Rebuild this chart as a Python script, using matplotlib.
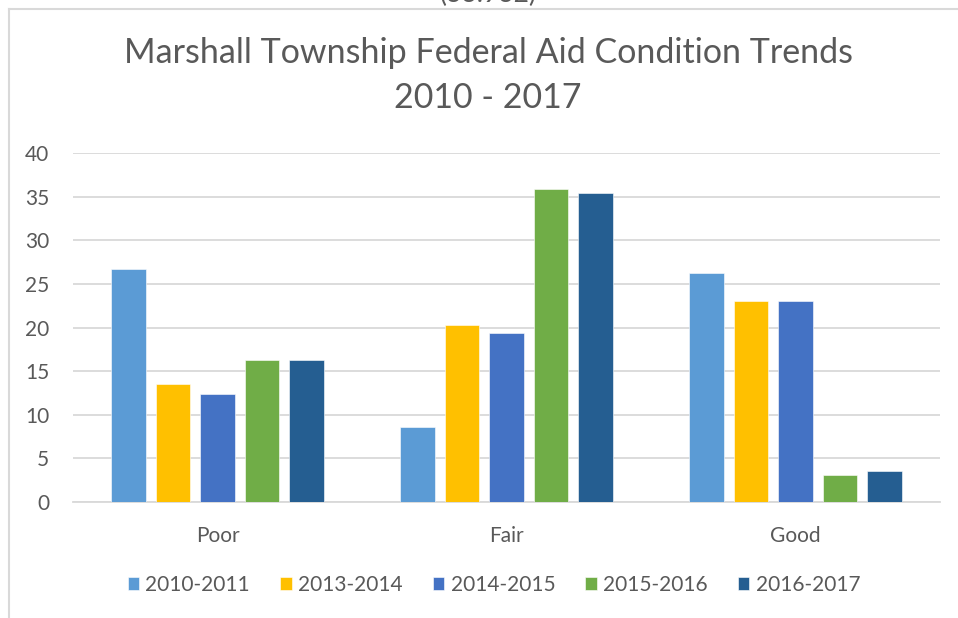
import numpy as np
import matplotlib.pyplot as plt
from matplotlib.lines import Line2D

categories = ['Poor', 'Fair', 'Good']
series = ['2010-2011', '2013-2014', '2014-2015', '2015-2016', '2016-2017']
v_2010_2011 = [26.7, 8.6, 26.3]
v_2013_2014 = [13.5, 20.3, 23.0]
v_2014_2015 = [12.4, 19.4, 23.0]
v_2015_2016 = [16.3, 35.9, 3.1]
v_2016_2017 = [16.3, 35.4, 3.6]
values = [v_2010_2011, v_2013_2014, v_2014_2015, v_2015_2016, v_2016_2017]
colors = ['#5B9BD5', '#FFC000', '#4472C4', '#70AD47', '#255E91']

plt.rcParams['font.family'] = ['Lato', 'DejaVu Sans']
txt = '#595959'
grid = '#D9D9D9'

W, H = 958, 618
fig = plt.figure(figsize=(W / 100, H / 100), dpi=100)

# plot area in pixels: x 73..940, y 153..502
ax = fig.add_axes([73 / W, 1 - 502 / H, (940 - 73) / W, (502 - 153) / H])

x = np.arange(len(categories))
pitch = 0.154
width = 0.121
for i, (name, vals, c) in enumerate(zip(series, values, colors)):
    ax.bar(x + (i - 2) * pitch, vals, width, color=c, label=name, zorder=3,
           edgecolor='white', linewidth=0.4)

ax.set_xlim(-0.5, 2.5)
ax.set_ylim(0, 40)
ax.set_yticks(range(0, 41, 5))
ax.set_xticks(x)
ax.set_xticklabels(categories)
ax.yaxis.grid(True, color=grid, linewidth=1.3, zorder=0)
for s in ['top', 'right', 'left']:
    ax.spines[s].set_visible(False)
ax.spines['bottom'].set_color(grid)
ax.spines['bottom'].set_linewidth(1.3)
ax.tick_params(axis='both', length=0, labelsize=15, colors=txt)
ax.tick_params(axis='y', pad=17)
ax.tick_params(axis='x', pad=17)

fig.text(488 / W, 1 - 53 / H, 'Marshall Township Federal Aid Condition Trends',
         ha='center', va='center', fontsize=24.5, color=txt)
fig.text(488 / W, 1 - 98 / H, '2010 - 2017',
         ha='center', va='center', fontsize=24.5, color=txt)
# partly cropped label at the very top, as in the source image
fig.text(488 / W, 1 - 7 / H, '(33.932)', ha='center', va='bottom',
         fontsize=19, color=txt)

# chart frame (cropped)
fig.add_artist(Line2D([8.5 / W, 957.5 / W], [1 - 8.5 / H, 1 - 8.5 / H],
                      color=grid, linewidth=1.5, transform=fig.transFigure))
fig.add_artist(Line2D([8.5 / W, 8.5 / W], [0, 1 - 8.5 / H],
                      color=grid, linewidth=1.5, transform=fig.transFigure))

fig.legend(loc='center', bbox_to_anchor=(494 / W, 1 - 585 / H), ncol=5,
           frameon=False, fontsize=15, handlelength=0.55, handleheight=0.55,
           handletextpad=0.3, columnspacing=1.45, labelcolor=txt)

fig.savefig('out.png', dpi=100, facecolor='white')
